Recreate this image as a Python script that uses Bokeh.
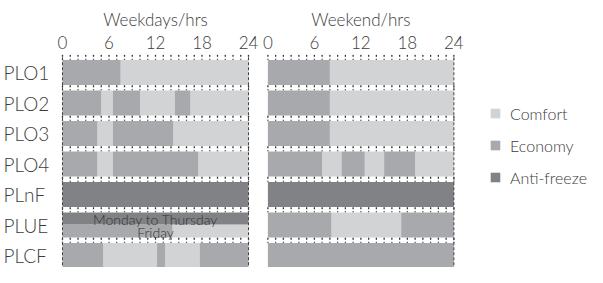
from bokeh.plotting import figure
from bokeh.models import (Range1d, LinearAxis, FixedTicker, Legend, LegendItem,
                          ColumnDataSource)
from bokeh.core.properties import value
from bokeh.embed import file_html
from bokeh.resources import INLINE

# ---------------- data ----------------
rows = ["PLO1", "PLO2", "PLO3", "PLO4", "PLnF", "PLUE", "PLCF"]
modes = ["Comfort", "Economy", "Anti-freeze"]
hour_ticks = [0, 6, 12, 18, 24]
panel_titles = ["Weekdays/hrs", "Weekend/hrs"]
plue_notes = ["Monday to Thursday", "Friday"]

# Weekday programmes: change-over hours and mode of each interval
wd_PLO1_hours = [0, 7.5, 24]
wd_PLO1_modes = ["Economy", "Comfort"]
wd_PLO2_hours = [0, 5, 6.5, 10, 14.5, 16.5, 24]
wd_PLO2_modes = ["Economy", "Comfort", "Economy", "Comfort", "Economy", "Comfort"]
wd_PLO3_hours = [0, 4.5, 6.5, 14.3, 24]
wd_PLO3_modes = ["Economy", "Comfort", "Economy", "Comfort"]
wd_PLO4_hours = [0, 4.5, 6.5, 17.5, 24]
wd_PLO4_modes = ["Economy", "Comfort", "Economy", "Comfort"]
wd_PLnF_hours = [0, 24]
wd_PLnF_modes = ["Anti-freeze"]
wd_PLUE_mon_thu_hours = [0, 24]
wd_PLUE_mon_thu_modes = ["Anti-freeze"]
wd_PLUE_fri_hours = [0, 14.2, 24]
wd_PLUE_fri_modes = ["Economy", "Comfort"]
wd_PLCF_hours = [0, 5.25, 12.2, 13.25, 17.7, 24]
wd_PLCF_modes = ["Economy", "Comfort", "Economy", "Comfort", "Economy"]

# Weekend programmes
we_PLO1_hours = [0, 8, 24]
we_PLO1_modes = ["Economy", "Comfort"]
we_PLO2_hours = [0, 8, 24]
we_PLO2_modes = ["Economy", "Comfort"]
we_PLO3_hours = [0, 8, 24]
we_PLO3_modes = ["Economy", "Comfort"]
we_PLO4_hours = [0, 7, 9.5, 12.5, 15, 19, 24]
we_PLO4_modes = ["Economy", "Comfort", "Economy", "Comfort", "Economy", "Comfort"]
we_PLnF_hours = [0, 24]
we_PLnF_modes = ["Anti-freeze"]
we_PLUE_hours = [0, 8.2, 17.2, 24]
we_PLUE_modes = ["Economy", "Comfort", "Economy"]
we_PLCF_hours = [0, 24]
we_PLCF_modes = ["Economy"]

# ---------------- styling / layout ----------------
mode_colors = {"Comfort": "#d1d3d4", "Economy": "#a7a9ac", "Anti-freeze": "#808285"}
FONT_STR = "'Lato Light', Lato, sans-serif"
FONT = value(FONT_STR)
TEXT_COLOR = "#3c3c3c"
W_OFF = 26.5            # horizontal offset of the weekend panel (hours)
PX_H = 7.75             # pixels per hour
PX_ROW = 30.5           # pixels per row
HALF = 12.5 / PX_ROW    # half bar height (row units)

W, H = 587, 267
TOP = 54
ROW0_PX = 72.0
x_start = -62 / PX_H
x_end = x_start + W / PX_H
y_top = -(ROW0_PX - TOP) / PX_ROW
y_bot = y_top + (H - TOP) / PX_ROW

p = figure(width=W, height=H, output_backend="svg", toolbar_location=None,
           x_range=Range1d(x_start, x_end), y_range=Range1d(y_bot, y_top),
           x_axis_location=None, y_axis_location=None,
           min_border_top=TOP, min_border_left=0, min_border_right=0,
           min_border_bottom=0)
p.outline_line_color = None
p.xgrid.visible = False
p.ygrid.visible = False
p.background_fill_color = "white"

# ---------------- bars ----------------
segs = {m: dict(left=[], right=[], top=[], bottom=[]) for m in modes}


def add(hours, mds, row, offset, y0, y1):
    for a, b, m in zip(hours[:-1], hours[1:], mds):
        segs[m]["left"].append(a + offset)
        segs[m]["right"].append(b + offset)
        segs[m]["top"].append(rows.index(row) + y0)
        segs[m]["bottom"].append(rows.index(row) + y1)


for r in ["PLO1", "PLO2", "PLO3", "PLO4", "PLnF", "PLCF"]:
    add(globals()["wd_%s_hours" % r], globals()["wd_%s_modes" % r], r, 0, -HALF, HALF)
add(wd_PLUE_mon_thu_hours, wd_PLUE_mon_thu_modes, "PLUE", 0, -HALF, -0.02)
add(wd_PLUE_fri_hours, wd_PLUE_fri_modes, "PLUE", 0, -0.02, HALF)
for r in rows:
    add(globals()["we_%s_hours" % r], globals()["we_%s_modes" % r], r, W_OFF, -HALF, HALF)

renderers = {}
for m in modes:
    renderers[m] = p.quad(source=ColumnDataSource(segs[m]), left="left", right="right",
                          top="top", bottom="bottom", fill_color=mode_colors[m],
                          line_color=None)

# ---------------- dotted rulers between rows ----------------
rx, ry0, ry1 = [], [], []
for off in [0, W_OFF]:
    for i in range(len(rows) + 1):
        for h in range(0, 25):
            rx.append(h + off)
            ry0.append(i - 0.5 - 0.085)
            ry1.append(i - 0.5 + 0.085)
p.segment(x0=rx, x1=rx, y0=ry0, y1=ry1, line_color="#333333", line_width=1.3,
          line_dash="2 2")

# dashed panel borders
bx = [0, 24, 24 + W_OFF]
p.segment(x0=bx, x1=bx, y0=[-0.5] * 3, y1=[len(rows)] * 3, line_color="#444444",
          line_width=1, line_dash="3 2")

# ---------------- row labels ----------------
p.text(x=[x_start + 3 / PX_H] * len(rows), y=list(range(len(rows))), text=rows,
       text_font=FONT, text_font_size="19px", text_color=TEXT_COLOR,
       text_align="left", text_baseline="middle")

# PLUE notes
plue = rows.index("PLUE")
p.text(x=[12, 12], y=[plue - 0.17, plue + 0.26], text=plue_notes, text_font=FONT,
       text_font_size="14px", text_color="#333333", text_align="center",
       text_baseline="middle")

# ---------------- axes above ----------------
ticks = [h for h in hour_ticks] + [h + W_OFF for h in hour_ticks]
overrides = {t: str(h) for t, h in zip(ticks, hour_ticks + hour_ticks)}
ax = LinearAxis(ticker=FixedTicker(ticks=ticks), major_label_overrides=overrides)
ttl_ticks = [12, 12 + W_OFF]
ax2 = LinearAxis(ticker=FixedTicker(ticks=ttl_ticks),
                 major_label_overrides={t: s for t, s in zip(ttl_ticks, panel_titles)})
for a, so in [(ax, 6), (ax2, 3)]:
    a.axis_line_color = None
    a.major_tick_line_color = None
    a.minor_tick_line_color = None
    a.major_tick_out = 0
    a.major_tick_in = 0
    a.major_label_standoff = so
    a.major_label_text_font = FONT_STR
    a.major_label_text_font_size = "17px"
    a.major_label_text_color = TEXT_COLOR
    p.add_layout(a, "above")

# ---------------- legend ----------------
legend = Legend(items=[LegendItem(label=m, renderers=[renderers[m]]) for m in modes],
                location=(489, 80), glyph_width=12, glyph_height=12, label_standoff=9,
                spacing=12, label_height=20, padding=0, margin=0,
                border_line_color=None, background_fill_alpha=0,
                label_text_font=FONT_STR, label_text_font_size="16px",
                label_text_color=TEXT_COLOR)
p.add_layout(legend)

open("out.html", "w").write(file_html(p, INLINE))
